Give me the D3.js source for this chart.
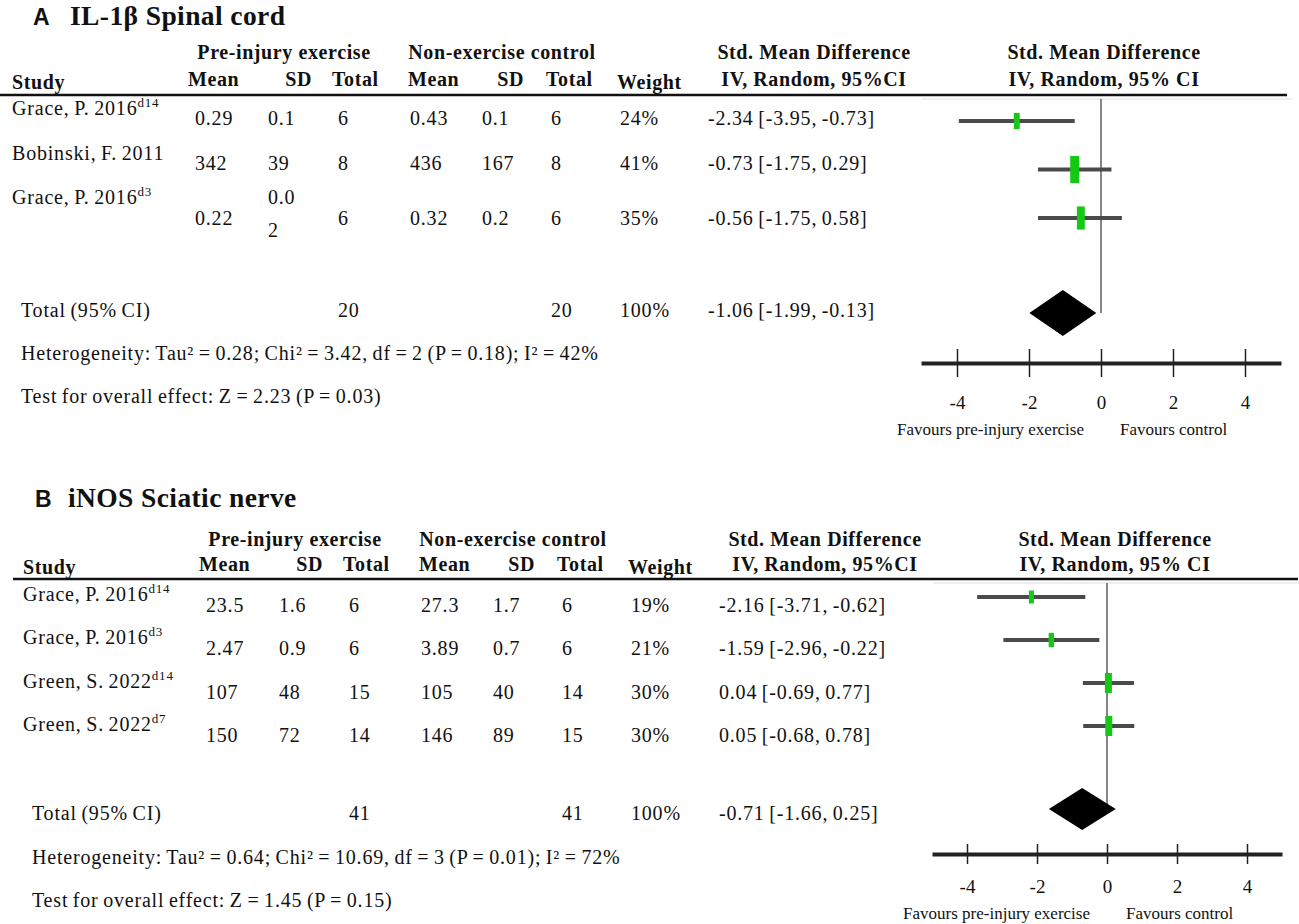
<!DOCTYPE html>
<html>
<head>
<meta charset="utf-8">
<title>Forest plots: IL-1b and iNOS</title>
<script src="https://d3js.org/d3.v7.min.js"></script>
<style>
body { margin: 0; background: #fff; }
svg text { font-family: "Liberation Serif", "Times New Roman", serif; fill: #111; }
</style>
</head>
<body>
<svg id="chart" width="1299" height="924"></svg>
<script>

// ---- panel A : IL-1b spinal cord ----
var studiesA = ["Grace, P. 2016", "Bobinski, F. 2011", "Grace, P. 2016"];
var supsA    = ["d14", "", "d3"];
var exMeanA  = ["0.29", "342", "0.22"];
var exSdA    = ["0.1", "39", "0.02"];
var exNA     = [6, 8, 6];
var ctMeanA  = ["0.43", "436", "0.32"];
var ctSdA    = ["0.1", "167", "0.2"];
var ctNA     = [6, 8, 6];
var weightA  = [24, 41, 35];
var smdA     = [-2.34, -0.73, -0.56];
var lowA     = [-3.95, -1.75, -1.75];
var highA    = [-0.73, 0.29, 0.58];
var totalA   = [20, 20, -1.06, -1.99, -0.13];   // n exercise, n control, smd, low, high
var hetA     = "Heterogeneity: Tau² = 0.28; Chi² = 3.42, df = 2 (P = 0.18); I² = 42%";
var testA    = "Test for overall effect: Z = 2.23 (P = 0.03)";

// ---- panel B : iNOS sciatic nerve ----
var studiesB = ["Grace, P. 2016", "Grace, P. 2016", "Green, S. 2022", "Green, S. 2022"];
var supsB    = ["d14", "d3", "d14", "d7"];
var exMeanB  = ["23.5", "2.47", "107", "150"];
var exSdB    = ["1.6", "0.9", "48", "72"];
var exNB     = [6, 6, 15, 14];
var ctMeanB  = ["27.3", "3.89", "105", "146"];
var ctSdB    = ["1.7", "0.7", "40", "89"];
var ctNB     = [6, 6, 14, 15];
var weightB  = [19, 21, 30, 30];
var smdB     = [-2.16, -1.59, 0.04, 0.05];
var lowB     = [-3.71, -2.96, -0.69, -0.68];
var highB    = [-0.62, -0.22, 0.77, 0.78];
var totalB   = [41, 41, -0.71, -1.66, 0.25];
var hetB     = "Heterogeneity: Tau² = 0.64; Chi² = 10.69, df = 3 (P = 0.01); I² = 72%";
var testB    = "Test for overall effect: Z = 1.45 (P = 0.15)";

var axisTicks = [-4, -2, 0, 2, 4];
var axisDomain = [-5, 5];

var svg = d3.select("#chart");

// marker size follows the study weight
var sqH = d3.scaleLinear().domain([19, 41]).range([13, 27]);
var sqW = d3.scaleLinear().domain([19, 41]).range([5, 9]);

function fmt(v) { return v.toFixed(2); }
function ci(m, lo, hi) { return fmt(m) + " [" + fmt(lo) + ", " + fmt(hi) + "]"; }
// the SD column is narrow, long values break onto a second line
function cellLines(s) { return s.length > 3 ? [s.slice(0, 3), s.slice(3)] : [s]; }

function put(g, x, y, s, anchor, cls) {
	var t = g.append("text").attr("x", x).attr("y", y).text(s)
		.attr("text-anchor", anchor || "start");
	if (cls == "hdr") t.attr("font-weight", "bold").attr("font-size", 20)
		.style("letter-spacing", "0.6px");
	else t.attr("font-size", 20).style("letter-spacing", "0.8px").style("word-spacing", "-1.2px");
	return t;
}

function drawPanel(p) {
	var g = svg.append("g").attr("transform", "translate(" + p.dx + ",0)");
	var n = p.studies.length;

	// title
	svg.append("text").attr("x", p.letterX).attr("y", p.titleY)
		.style("font-family", "'Liberation Sans', Arial, sans-serif")
		.attr("font-weight", "bold").attr("font-size", 23).text(p.letter);
	svg.append("text").attr("x", p.titleX).attr("y", p.titleY)
		.attr("font-weight", "bold").attr("font-size", 27.5).style("letter-spacing", "0.4px")
		.text(p.title);

	// headers
	put(g, 284, p.groupY, "Pre-injury exercise", "middle", "hdr");
	put(g, 502, p.groupY, "Non-exercise control", "middle", "hdr");
	put(g, 814, p.groupY, "Std. Mean Difference", "middle", "hdr");
	put(g, 1104, p.groupY, "Std. Mean Difference", "middle", "hdr");
	put(g, 188, p.subY, "Mean", "start", "hdr");
	put(g, 312, p.subY, "SD", "end", "hdr");
	put(g, 332, p.subY, "Total", "start", "hdr");
	put(g, 408, p.subY, "Mean", "start", "hdr");
	put(g, 524, p.subY, "SD", "end", "hdr");
	put(g, 546, p.subY, "Total", "start", "hdr");
	put(g, 814, p.subY, "IV, Random, 95%CI", "middle", "hdr");
	put(g, 1104, p.subY, "IV, Random, 95% CI", "middle", "hdr");
	put(g, 12, p.subY + 3, "Study", "start", "hdr");
	put(g, 617, p.subY + 3, "Weight", "start", "hdr");

	svg.append("line").attr("x1", p.lineX[0]).attr("x2", p.lineX[1])
		.attr("y1", p.lineY).attr("y2", p.lineY)
		.attr("stroke", "#111").attr("stroke-width", 2.5);
	svg.append("line").attr("x1", p.lineX[1] - 365).attr("x2", p.lineX[1] + 5)
		.attr("y1", p.lineY + 4).attr("y2", p.lineY + 4)
		.attr("stroke", "#ddd").attr("stroke-width", 1);

	// table rows
	var nameY = d3.scalePoint().domain(d3.range(n)).range(p.nameY);
	for (var i = 0; i < n; i++) {
		var y0 = nameY(i);
		var wrap = cellLines(p.exSd[i]).length > 1 || cellLines(p.ctSd[i]).length > 1;
		var vy = y0 + (wrap ? 21 : p.valOff);
		var nm = put(g, 12, y0, p.studies[i]);
		if (p.sups[i]) nm.append("tspan").attr("font-size", 13).attr("dy", -8).text(p.sups[i]);
		put(g, 195, vy, p.exMean[i]);
		[[268, p.exSd[i]], [482, p.ctSd[i]]].forEach(function(c) {
			var ls = cellLines(c[1]);
			if (ls.length == 1) put(g, c[0], vy, ls[0]);
			else { put(g, c[0], y0, ls[0]); put(g, c[0], y0 + 33, ls[1]); }
		});
		put(g, 338, vy, p.exN[i]);
		put(g, 410, vy, p.ctMean[i]);
		put(g, 551, vy, p.ctN[i]);
		put(g, 620, vy, p.weight[i] + "%");
		put(g, 708, vy, ci(p.smd[i], p.low[i], p.high[i]));
	}

	// totals and footnotes
	put(g, 21, p.totalY, "Total (95% CI)");
	put(g, 338, p.totalY, p.total[0]);
	put(g, 551, p.totalY, p.total[1]);
	put(g, 620, p.totalY, "100%");
	put(g, 708, p.totalY, ci(p.total[2], p.total[3], p.total[4]));
	put(g, 21, p.hetY, p.het);
	put(g, 21, p.testY, p.test);

	// forest plot
	var x = d3.scaleLinear().domain(axisDomain).range(p.xRange);
	var fy = d3.scalePoint().domain(d3.range(n)).range(p.forestY);

	svg.append("line").attr("x1", x(0)).attr("x2", x(0))
		.attr("y1", p.lineY + 4).attr("y2", p.diaY)
		.attr("stroke", "#333").attr("stroke-width", 1.2);

	var rows = d3.range(n);
	svg.selectAll(null).data(rows).enter().append("line")
		.attr("x1", function(i) { return x(p.low[i]); })
		.attr("x2", function(i) { return x(p.high[i]); })
		.attr("y1", function(i) { return fy(i); })
		.attr("y2", function(i) { return fy(i); })
		.attr("stroke", "#4a4a4a").attr("stroke-width", 4);
	svg.selectAll(null).data(rows).enter().append("rect")
		.attr("x", function(i) { return x(p.smd[i]) - sqW(p.weight[i]) / 2; })
		.attr("y", function(i) { return fy(i) - sqH(p.weight[i]) / 2; })
		.attr("width", function(i) { return sqW(p.weight[i]); })
		.attr("height", function(i) { return sqH(p.weight[i]); })
		.attr("fill", "#14c814");

	var t = p.total, h = p.diaH;
	svg.append("path")
		.attr("d", "M" + x(t[3]) + "," + p.diaY + "L" + x(t[2]) + "," + (p.diaY - h)
			+ "L" + x(t[4]) + "," + p.diaY + "L" + x(t[2]) + "," + (p.diaY + h) + "Z")
		.attr("fill", "#000");

	// axis
	var ax = svg.append("g").attr("transform", "translate(0," + p.axisY + ")")
		.call(d3.axisBottom(x).tickValues(axisTicks).tickSizeOuter(0)
			.tickFormat(function(d) { return String(d); }));
	ax.select(".domain").attr("stroke", "#222").attr("stroke-width", 4);
	ax.selectAll(".tick line").attr("y1", -p.tickH).attr("y2", p.tickH)
		.attr("stroke", "#222").attr("stroke-width", 1.5);
	ax.selectAll(".tick text").attr("y", p.tickLabY - p.axisY).attr("dy", null)
		.attr("font-size", 19).attr("fill", "#111");

	svg.append("text").attr("x", x(0) - 17).attr("y", p.favY).attr("text-anchor", "end")
		.attr("font-size", 17).text("Favours pre-injury exercise");
	svg.append("text").attr("x", x(0) + 19).attr("y", p.favY).attr("text-anchor", "start")
		.attr("font-size", 17).text("Favours control");
}

drawPanel({
	letter: "A", title: "IL-1β Spinal cord", dx: 0, letterX: 33, titleX: 70,
	studies: studiesA, sups: supsA, exMean: exMeanA, exSd: exSdA, exN: exNA,
	ctMean: ctMeanA, ctSd: ctSdA, ctN: ctNA, weight: weightA,
	smd: smdA, low: lowA, high: highA, total: totalA, het: hetA, test: testA,
	titleY: 25, groupY: 59, subY: 86, lineY: 95, lineX: [0, 1287],
	nameY: [115, 204], valOff: 10, forestY: [121, 218],
	totalY: 317, hetY: 360, testY: 403,
	xRange: [921, 1281], diaY: 313, diaH: 23,
	axisY: 363, tickH: 14, tickLabY: 409, favY: 435
});

drawPanel({
	letter: "B", title: "iNOS Sciatic nerve", dx: 11, letterX: 35, titleX: 68,
	studies: studiesB, sups: supsB, exMean: exMeanB, exSd: exSdB, exN: exNB,
	ctMean: ctMeanB, ctSd: ctSdB, ctN: ctNB, weight: weightB,
	smd: smdB, low: lowB, high: highB, total: totalB, het: hetB, test: testB,
	titleY: 507, groupY: 546, subY: 571, lineY: 579, lineX: [13, 1298],
	nameY: [601, 731], valOff: 11, forestY: [597, 726],
	totalY: 820, hetY: 864, testY: 907,
	xRange: [932, 1282], diaY: 809, diaH: 21,
	axisY: 854, tickH: 10, tickLabY: 893, favY: 919
});

</script>
</body>
</html>
